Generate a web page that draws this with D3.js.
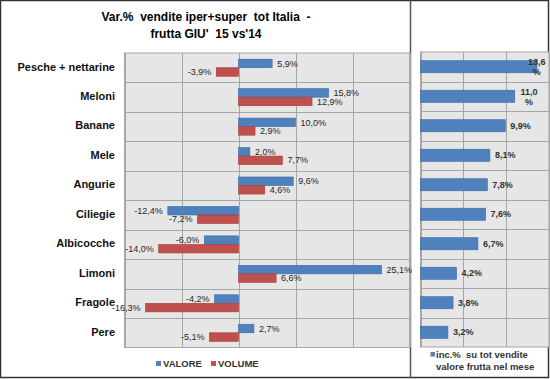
<!DOCTYPE html>
<html>
<head>
<meta charset="utf-8">
<script src="https://cdn.jsdelivr.net/npm/d3@7"></script>
<style>
  html, body { margin: 0; padding: 0; background: #fff; }
  svg { display: block; font-family: "Liberation Sans", Arial, sans-serif; }
  svg text { white-space: pre; }
</style>
</head>
<body>
<svg id="chart" width="550" height="379"></svg>
<script>
const categories = ["Pesche + nettarine", "Meloni", "Banane", "Mele", "Angurie", "Ciliegie", "Albicocche", "Limoni", "Fragole", "Pere"];
const valore = [5.9, 15.8, 10.0, 2.0, 9.6, -12.4, -6.0, 25.1, -4.2, 2.7];
const volume = [-3.9, 12.9, 2.9, 7.7, 4.6, -7.2, -14.0, 6.6, -16.3, -5.1];
const incidenza = [13.6, 11.0, 9.9, 8.1, 7.8, 7.6, 6.7, 4.2, 3.8, 3.2];
const leftTicks = [-20, -10, 0, 10, 20, 30];
const rightTicks = [0, 5, 10, 15];
const titleLines = ["Var.%  vendite iper+super  tot Italia  -", "frutta GIU'  15 vs'14"];
const legendLeft = ["VALORE", "VOLUME"];
const legendRight = ["inc.%  su tot vendite", "valore frutta nel mese"];

const BLUE = "#4F81BD", BLUE_S = "#3C6AA3";
const RED = "#C0504D", RED_S = "#A33E3B";
const PLOT_BG = "#E6E6E6", GRID = "#A6A6A6";

const locale = d3.formatLocale({ decimal: ",", thousands: ".", grouping: [3], currency: ["", "€"], minus: "-" });
const fmt = v => locale.format(".1f")(v) + "%";

const svg = d3.select("#chart");

// Outer frames
svg.append("rect").attr("x", 0.5).attr("y", 0.5).attr("width", 548).attr("height", 377)
  .attr("fill", "#fff").attr("stroke", "#333").attr("stroke-width", 1.5);
svg.append("line").attr("x1", 410.5).attr("x2", 410.5).attr("y1", 0).attr("y2", 378)
  .attr("stroke", "#555").attr("stroke-width", 1.5);

// ---------- Left chart ----------
const L = { x0: 124.5, x1: 409.5, y0: 53, y1: 347.5 };
const x = d3.scaleLinear().domain([-20, 30]).range([L.x0, L.x1]);
const y = d3.scaleBand().domain(categories).range([L.y0, L.y1]).paddingInner(0.42).paddingOuter(0.21);
const yRow = d3.scaleBand().domain(categories).range([L.y0, L.y1]);

const gl = svg.append("g");
gl.append("rect").attr("x", L.x0).attr("y", L.y0).attr("width", L.x1 - L.x0).attr("height", L.y1 - L.y0)
  .attr("fill", PLOT_BG);
gl.selectAll("line.h").data(categories.slice(1)).join("line")
  .attr("x1", L.x0).attr("x2", L.x1)
  .attr("y1", d => Math.round(yRow(d)) + 0.5).attr("y2", d => Math.round(yRow(d)) + 0.5)
  .attr("stroke", GRID).attr("stroke-width", 1);
gl.selectAll("line.v").data(leftTicks).join("line")
  .attr("x1", d => Math.round(x(d)) + 0.5).attr("x2", d => Math.round(x(d)) + 0.5)
  .attr("y1", L.y0).attr("y2", L.y1)
  .attr("stroke", GRID).attr("stroke-width", 1);
gl.append("rect").attr("x", L.x0).attr("y", L.y0).attr("width", L.x1 - L.x0).attr("height", L.y1 - L.y0)
  .attr("fill", "none").attr("stroke", GRID);

const bh = y.bandwidth() / 2;
const rows = categories.map((c, i) => ({ c, v: valore[i], w: volume[i] }));

gl.selectAll("rect.val").data(rows).join("rect")
  .attr("x", d => x(Math.min(0, d.v))).attr("width", d => Math.abs(x(d.v) - x(0)))
  .attr("y", d => y(d.c)).attr("height", bh)
  .attr("fill", BLUE).attr("stroke", BLUE_S).attr("stroke-width", 0.6);
gl.selectAll("rect.vol").data(rows).join("rect")
  .attr("x", d => x(Math.min(0, d.w))).attr("width", d => Math.abs(x(d.w) - x(0)))
  .attr("y", d => y(d.c) + bh).attr("height", bh)
  .attr("fill", RED).attr("stroke", RED_S).attr("stroke-width", 0.6);

function barLabel(sel, getV, off) {
  sel.attr("x", d => getV(d) >= 0 ? x(getV(d)) + 5 : x(getV(d)) - 5)
    .attr("y", d => y(d.c) + off + bh / 2)
    .attr("dy", "0.35em")
    .attr("text-anchor", d => getV(d) >= 0 ? "start" : "end")
    .attr("font-size", 9).attr("fill", "#262626")
    .text(d => fmt(getV(d)));
}
gl.selectAll("text.lv").data(rows).join("text").call(barLabel, d => d.v, 0);
gl.selectAll("text.lw").data(rows).join("text").call(barLabel, d => d.w, bh);

gl.selectAll("text.cat").data(categories).join("text")
  .attr("x", 115).attr("y", d => yRow(d) + yRow.bandwidth() / 2 - 1)
  .attr("dy", "0.35em").attr("text-anchor", "end")
  .attr("font-size", 11).attr("font-weight", "bold").attr("fill", "#111")
  .text(d => d);

svg.selectAll("text.title").data(titleLines).join("text")
  .attr("x", 206).attr("y", (d, i) => 21 + i * 16.5)
  .attr("text-anchor", "middle").attr("font-size", 12).attr("font-weight", "bold").attr("fill", "#000")
  .text(d => d);

const legL = svg.append("g");
const legItems = [{ t: legendLeft[0], c: BLUE, x: 156 }, { t: legendLeft[1], c: RED, x: 211 }];
legL.selectAll("rect").data(legItems).join("rect")
  .attr("x", d => d.x).attr("y", 361).attr("width", 5).attr("height", 5).attr("fill", d => d.c);
legL.selectAll("text").data(legItems).join("text")
  .attr("x", d => d.x + 7).attr("y", 364).attr("dy", "0.35em")
  .attr("font-size", 9.5).attr("font-weight", "bold").attr("fill", "#333")
  .text(d => d.t);

// ---------- Right chart ----------
const R = { x0: 420.5, x1: 549, y0: 52, y1: 347 };
const x2 = d3.scaleLinear().domain([0, 15]).range([R.x0, R.x1]);
const y2 = d3.scaleBand().domain(categories).range([R.y0, R.y1]).paddingInner(0.59).paddingOuter(0.295);
const y2Row = d3.scaleBand().domain(categories).range([R.y0, R.y1]);

const gr = svg.append("g");
gr.append("rect").attr("x", R.x0).attr("y", R.y0).attr("width", R.x1 - R.x0).attr("height", R.y1 - R.y0)
  .attr("fill", PLOT_BG);
gr.selectAll("line.h").data(categories.slice(1)).join("line")
  .attr("x1", R.x0).attr("x2", R.x1)
  .attr("y1", d => Math.round(y2Row(d)) + 0.5).attr("y2", d => Math.round(y2Row(d)) + 0.5)
  .attr("stroke", GRID);
gr.selectAll("line.v").data(rightTicks).join("line")
  .attr("x1", d => Math.round(x2(d)) + 0.5).attr("x2", d => Math.round(x2(d)) + 0.5)
  .attr("y1", R.y0).attr("y2", R.y1)
  .attr("stroke", GRID);
gr.append("rect").attr("x", R.x0).attr("y", R.y0).attr("width", R.x1 - R.x0).attr("height", R.y1 - R.y0)
  .attr("fill", "none").attr("stroke", GRID);

const rrows = categories.map((c, i) => ({ c, v: incidenza[i] }));
gr.selectAll("rect.inc").data(rrows).join("rect")
  .attr("x", x2(0)).attr("width", d => x2(d.v) - x2(0))
  .attr("y", d => y2(d.c)).attr("height", y2.bandwidth())
  .attr("fill", BLUE).attr("stroke", BLUE_S).attr("stroke-width", 0.6);

rrows.forEach(d => {
  const end = x2(d.v);
  const cy = y2(d.c) + y2.bandwidth() / 2;
  const full = fmt(d.v);
  const approxW = full.length * 4.9;
  if (end + 5 + approxW > 538) {
    const num = full.slice(0, -1);
    const w = num.length * 4.6;
    const cx = Math.min(end + 5 + w / 2, 546 - w / 2);
    const t = gr.append("text").attr("text-anchor", "middle")
      .attr("font-size", 9).attr("font-weight", "bold").attr("fill", "#333");
    t.append("tspan").attr("x", cx).attr("y", cy - 4.5).attr("dy", "0.35em").text(num);
    t.append("tspan").attr("x", cx).attr("y", cy + 5.5).attr("dy", "0.35em").text("%");
  } else {
    gr.append("text").attr("x", end + 5).attr("y", cy).attr("dy", "0.35em")
      .attr("font-size", 9).attr("font-weight", "bold").attr("fill", "#333").text(full);
  }
});

svg.append("rect").attr("x", 430.5).attr("y", 352).attr("width", 4.5).attr("height", 4.5).attr("fill", BLUE);
svg.selectAll("text.legR").data(legendRight).join("text")
  .attr("x", 436).attr("y", (d, i) => 354.5 + i * 12.3).attr("dy", "0.35em")
  .attr("font-size", 9.5).attr("font-weight", "bold").attr("fill", "#333")
  .text(d => d);
</script>
</body>
</html>
